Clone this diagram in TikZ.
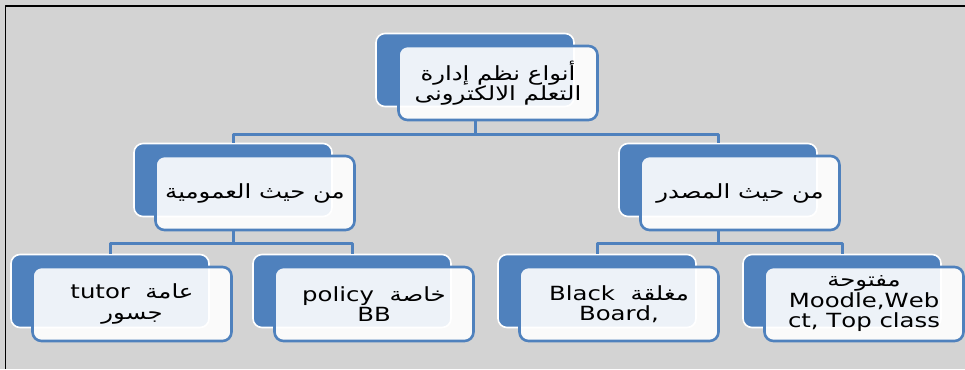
\documentclass[tikz,border=0pt]{standalone}
\usepackage{fontspec}
\setmainfont{DejaVu Sans}[FakeStretch=1.25]
\newfontfamily\arabicfont[Script=Arabic,FakeStretch=1.25]{DejaVu Sans}
\TeXXeTstate=1
\definecolor{boxblue}{RGB}{79,129,189}
\definecolor{paper}{RGB}{211,211,211}
\tikzset{
  back/.style={draw=white, line width=1.6pt, fill=boxblue, rounded corners=9pt, minimum width=198pt, minimum height=73pt},
  front/.style={draw=boxblue, line width=2.6pt, fill=white, fill opacity=.9, text opacity=1, rounded corners=9pt,
    minimum width=199pt, minimum height=74pt, inner sep=0pt, align=center, font=\arabicfont\fontsize{19.5}{20.5}\selectfont},
  link/.style={draw=boxblue, line width=3pt}
}
\begin{document}
\begin{tikzpicture}[x=1pt, y=-1pt, line join=round]
	\useasboundingbox (0,0) rectangle (965,369);
	\fill[paper] (0,0) rectangle (965,369);
	\draw[line width=1.6pt] (5.5,369) -- (5.5,6) -- (965,6);
	% blue cards behind
	\foreach \n/\x/\y in {t/475/70, a/233/180, b/718/180, a1/110/291, a2/352/291, b1/597/291, b2/842/291}
		\node[back] (\n-b) at (\x,\y) {};
	% light cards in front
	\node[front] (t) at ([shift={(23,13)}]t-b) {\beginR أنواع نظم إدارة\endR\\\beginR التعلم الالكترونى\endR};
	\node[front] (a) at ([shift={(22,13)}]a-b) {\beginR من حيث العمومية\endR};
	\node[front] (b) at ([shift={(22,13)}]b-b) {\beginR من حيث المصدر\endR};
	\node[front] (a1) at ([shift={(22,13)}]a1-b) {\beginR عامة\ \ \beginL tutor\endL\endR\\\beginR جسور\endR};
	\node[front] (a2) at ([shift={(22,13)}]a2-b) {\beginR خاصة\ \ \beginL policy\endL\endR\\BB};
	\node[front] (b1) at ([shift={(22,13)}]b1-b) {\beginR مغلقة\ \ \beginL Black\endL\endR\\Board,};
	\node[front] (b2) at ([shift={(22,13)}]b2-b) {\beginR مفتوحة\endR\\Moodle,Web\\ct, Top class};
	% connectors
	\draw[link] (t-b |- t.south) -- ++(0,13) -| (a-b.north);
	\draw[link] (t-b |- t.south) -- ++(0,13) -| (b-b.north);
	\foreach \p/\c in {a/a1, a/a2, b/b1, b/b2}
		\draw[link] (\p-b |- \p.south) -- ++(0,12) -| (\c-b.north);
\end{tikzpicture}
\end{document}
